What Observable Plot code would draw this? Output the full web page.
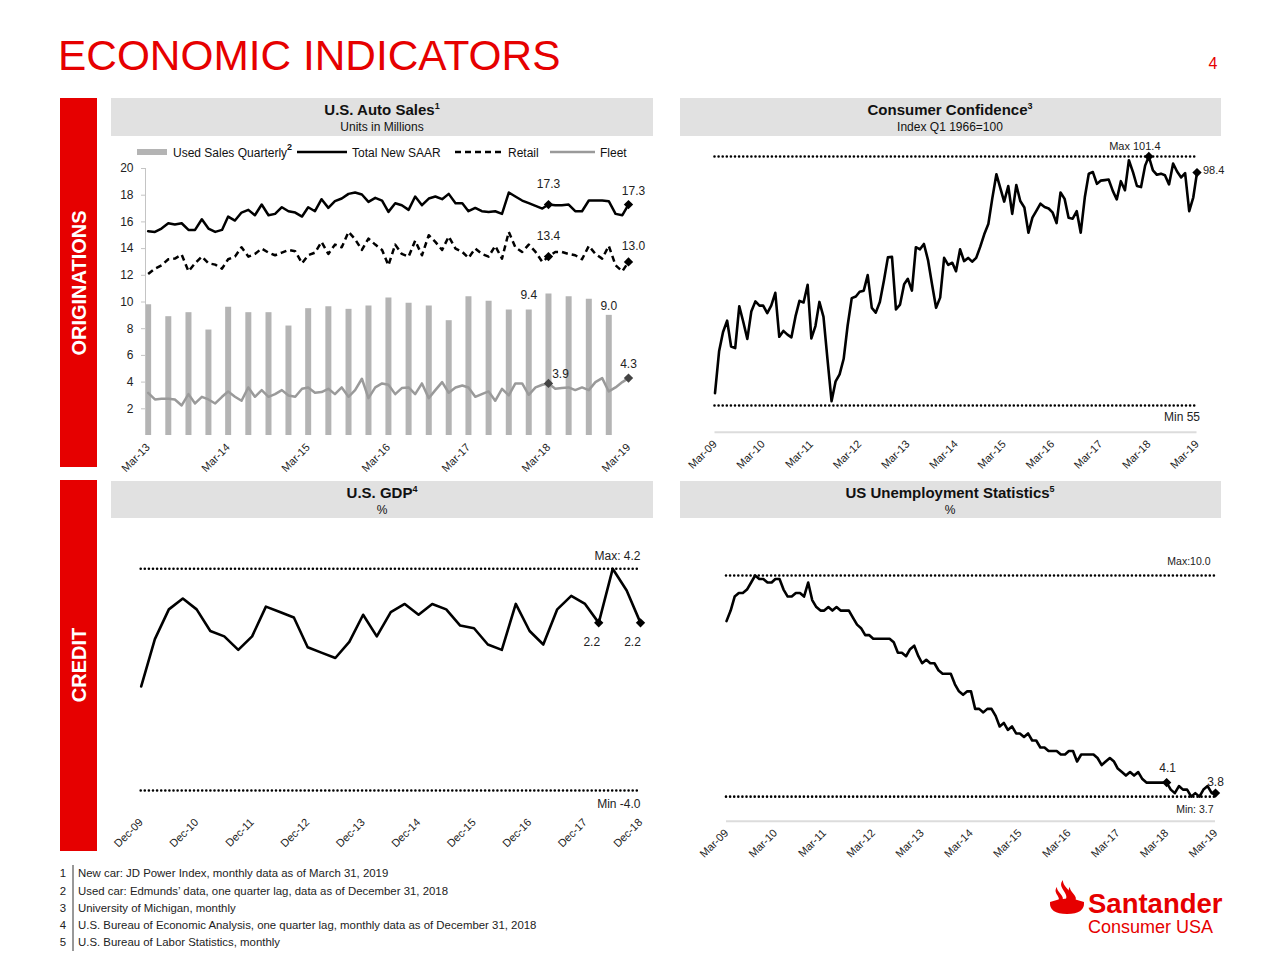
<!DOCTYPE html>
<html><head><meta charset="utf-8">
<script src="https://cdn.jsdelivr.net/npm/d3@7"></script>
<script src="https://cdn.jsdelivr.net/npm/@observablehq/plot@0.6"></script>
<style>
body{margin:0;background:#fff;font-family:Arial,"Liberation Sans",Helvetica,sans-serif;}
#page{position:relative;width:1280px;height:960px;overflow:hidden;background:#fff;}
.chart{position:absolute;}
</style></head>
<body><div id="page">
<svg id="deco" width="1280" height="960" style="position:absolute;left:0;top:0" font-family="Arial, 'Liberation Sans', Helvetica, sans-serif">
  <text x="58" y="70" font-size="42.4" fill="#e60000">ECONOMIC INDICATORS</text>
  <text x="1213" y="69" font-size="16" fill="#e60000" text-anchor="middle">4</text>
  <rect x="60" y="98" width="37" height="369" fill="#e60000"/>
  <text transform="translate(86,283) rotate(-90)" text-anchor="middle" font-size="20" font-weight="bold" fill="#fff">ORIGINATIONS</text>
  <rect x="60" y="480" width="37" height="371" fill="#e60000"/>
  <text transform="translate(86,665) rotate(-90)" text-anchor="middle" font-size="20" font-weight="bold" fill="#fff">CREDIT</text>

  <rect x="111" y="98" width="542" height="38" fill="#e1e1e1"/>
  <rect x="680" y="98" width="541" height="38" fill="#e1e1e1"/>
  <rect x="111" y="481" width="542" height="37" fill="#e1e1e1"/>
  <rect x="680" y="481" width="541" height="37" fill="#e1e1e1"/>
  <g text-anchor="middle" fill="#111">
    <text x="382" y="115" font-size="15" font-weight="bold">U.S. Auto Sales<tspan font-size="9" dy="-6">1</tspan></text>
    <text x="382" y="131" font-size="12">Units in Millions</text>
    <text x="950" y="115" font-size="15" font-weight="bold">Consumer Confidence<tspan font-size="9" dy="-6">3</tspan></text>
    <text x="950" y="131" font-size="12">Index Q1 1966=100</text>
    <text x="382" y="498" font-size="15" font-weight="bold">U.S. GDP<tspan font-size="9" dy="-6">4</tspan></text>
    <text x="382" y="514" font-size="12">%</text>
    <text x="950" y="498" font-size="15" font-weight="bold">US Unemployment Statistics<tspan font-size="9" dy="-6">5</tspan></text>
    <text x="950" y="514" font-size="12">%</text>
  </g>

  <g font-size="12" fill="#111">
    <rect x="137" y="149" width="30" height="6" fill="#b4b4b4"/>
    <text x="173" y="157">Used Sales Quarterly<tspan font-size="9" font-weight="bold" dy="-7">2</tspan></text>
    <line x1="297" x2="347" y1="152" y2="152" stroke="#000" stroke-width="2.5"/>
    <text x="352" y="157">Total New SAAR</text>
    <line x1="455" x2="505" y1="152" y2="152" stroke="#000" stroke-width="2.5" stroke-dasharray="6,4"/>
    <text x="508" y="157">Retail</text>
    <line x1="550" x2="595" y1="152" y2="152" stroke="#9a9a9a" stroke-width="2.5"/>
    <text x="600" y="157">Fleet</text>
  </g>

  <g font-size="11.4" fill="#222">
    <line x1="73" x2="73" y1="865" y2="951" stroke="#333" stroke-width="1"/>
    <text x="63" y="877" text-anchor="middle">1</text><text x="78" y="877">New car: JD Power Index, monthly data as of March 31, 2019</text>
    <text x="63" y="894.5" text-anchor="middle">2</text><text x="78" y="894.5">Used car: Edmunds’ data, one quarter lag, data as of December 31, 2018</text>
    <text x="63" y="912" text-anchor="middle">3</text><text x="78" y="912">University of Michigan, monthly</text>
    <text x="63" y="929" text-anchor="middle">4</text><text x="78" y="929">U.S. Bureau of Economic Analysis, one quarter lag, monthly data as of December 31, 2018</text>
    <text x="63" y="946" text-anchor="middle">5</text><text x="78" y="946">U.S. Bureau of Labor Statistics, monthly</text>
  </g>

  <g fill="#e60000">
    <path d="M1050,902 Q1067,895 1084,902 Q1085,914 1067,914 Q1049,914 1050,902Z"/>
    <path d="M1063,880 C1056,888 1071,893 1065,901 L1071,901 C1077,893 1062,888 1063,880Z"/>
    <path d="M1057,887 C1052,893 1062,897 1058,901 L1062,901 C1066,896 1056,892 1057,887Z"/>
    <path d="M1070,887 C1065,893 1075,897 1071,901 L1075,901 C1079,896 1069,892 1070,887Z"/>
    <text x="1088" y="913" font-size="27.5" font-weight="bold">Santander</text>
    <text x="1088" y="933" font-size="18">Consumer USA</text>
  </g>
</svg>
<div id="c-auto" class="chart" style="left:100px;top:140px"></div>
<div id="c-conf" class="chart" style="left:680px;top:140px"></div>
<div id="c-gdp" class="chart" style="left:110px;top:540px"></div>
<div id="c-unemp" class="chart" style="left:700px;top:540px"></div>
</div>
<script>
// ---------- DATA ----------
// U.S. Auto Sales (millions), monthly from Mar-13
const autoStart = "Mar-13";
const totalNewSAAR = [15.3,15.25,15.5,15.9,15.8,15.9,15.4,15.4,16.2,15.5,
  15.25,15.4,16.4,16.1,16.7,16.9,16.5,17.3,16.5,16.6,
  17.1,16.8,16.7,16.4,17.1,16.8,17.7,17.05,17.55,17.75,
  18.1,18.2,18.05,17.5,17.8,17.6,16.75,17.4,17.25,16.9,
  17.9,17.25,17.75,17.9,17.7,18.1,17.4,17.4,16.8,17.05,
  16.8,16.75,16.8,16.6,18.2,17.9,17.6,17.4,17.2,17.0,
  17.3,17.25,17.25,17.3,16.8,16.8,17.6,17.6,17.6,17.55,
  16.6,16.5,17.3];
const retail = [12.1,12.5,12.75,13.2,13.25,13.55,12.3,12.9,13.4,12.9,
  12.8,12.5,13.2,13.4,14.1,13.4,13.6,14.0,13.7,13.5,
  13.7,13.9,13.8,12.9,13.5,13.7,14.5,13.6,14.3,14.1,
  15.25,14.7,13.9,14.75,14.3,13.9,12.75,14.3,13.6,13.4,
  14.6,13.5,15.0,14.5,13.9,14.9,14.0,13.75,13.3,14.0,
  13.6,13.4,14.2,13.25,15.25,14.1,13.75,14.3,13.75,13.0,
  13.4,13.75,13.75,13.6,13.5,13.2,14.2,13.6,13.25,14.2,
  12.75,12.3,13.0];
const fleet = [3.2,2.7,2.75,2.75,2.7,2.25,3.1,2.4,2.9,2.7,
  2.4,2.9,3.3,2.9,2.6,3.6,2.9,3.4,2.9,3.1,
  3.4,3.0,2.9,3.5,3.6,3.2,3.25,3.5,3.1,3.6,
  2.9,3.4,4.25,2.8,3.6,3.9,3.8,3.1,3.55,3.6,
  3.1,3.9,2.8,3.4,4.0,3.2,3.6,3.75,3.6,2.9,
  3.1,3.3,2.6,3.5,3.0,3.9,3.9,3.05,3.6,3.8,
  3.9,3.5,3.55,3.6,3.4,3.6,3.4,4.0,4.3,3.3,
  3.6,4.0,4.3];
// Used sales, quarterly from Mar-13
const usedStart = "Mar-13";
const usedSalesQuarterly = [9.8,8.9,9.2,7.9,9.6,9.2,9.2,8.2,9.5,9.65,9.45,9.7,
  10.3,9.9,9.7,8.6,10.4,10.05,9.4,9.4,10.6,10.4,10.2,9.0];
const autoTickLabels = ["Mar-13","Mar-14","Mar-15","Mar-16","Mar-17","Mar-18","Mar-19"];
const autoYTicks = [2,4,6,8,10,12,14,16,18,20];

// Consumer Confidence (Index Q1 1966=100), monthly from Mar-09
const confStart = "Mar-09";
const consumerConfidence = [57.3,65.1,68.7,70.8,66.0,65.7,73.5,70.6,67.4,72.5,
  74.4,73.6,73.6,72.2,73.6,76.0,67.8,68.9,68.2,67.7,71.6,74.5,
  74.2,77.5,67.5,69.8,74.3,71.5,63.7,55.8,59.5,60.8,63.7,69.9,
  75.0,75.3,76.2,76.4,79.3,73.2,72.3,74.3,78.3,82.6,82.7,72.9,
  73.8,77.6,78.6,76.4,84.5,84.1,85.1,82.1,77.5,73.2,75.1,82.5,
  81.2,81.6,80.0,84.1,81.9,82.5,81.8,82.5,84.6,86.9,88.8,93.6,
  98.1,95.4,93.0,95.9,90.7,96.1,93.1,91.9,87.2,90.0,91.3,92.6,
  92.0,91.7,91.0,89.0,94.7,93.5,90.0,89.8,91.2,87.2,93.8,98.2,
  98.5,96.3,96.9,97.0,97.1,95.0,93.4,96.8,95.1,100.7,98.5,95.9,
  95.7,99.7,101.4,98.8,98.0,98.2,97.9,96.2,100.1,98.6,97.5,98.3,
  91.2,93.8,98.4];
const confRefLabels = ["Max 101.4","Min 55"];
const confRefValues = [101.4, 55];
const tenYearTickLabels = ["Mar-09","Mar-10","Mar-11","Mar-12","Mar-13","Mar-14","Mar-15","Mar-16","Mar-17","Mar-18","Mar-19"];

// U.S. GDP (%), quarterly from Dec-09
const gdpStart = "Dec-09";
const gdp = [-0.15,1.6,2.7,3.1,2.7,1.9,1.7,1.2,1.7,2.8,2.6,2.4,1.3,1.1,0.9,1.5,2.5,1.7,2.6,
  2.9,2.5,2.9,2.7,2.1,2.0,1.4,1.2,2.9,1.9,1.4,2.7,3.2,2.9,2.2,4.2,3.4,2.2];
const gdpRefLabels = ["Max: 4.2","Min -4.0"];
const gdpRefValues = [4.2, -4.0];
const gdpTickLabels = ["Dec-09","Dec-10","Dec-11","Dec-12","Dec-13","Dec-14","Dec-15","Dec-16","Dec-17","Dec-18"];

// US Unemployment (%), monthly from Mar-09
const unempStart = "Mar-09";
const unemployment = [8.7,9.0,9.4,9.5,9.5,9.6,9.8,10.0,9.9,9.9,
  9.8,9.8,9.9,9.9,9.6,9.4,9.4,9.5,9.5,9.4,9.8,9.3,
  9.1,9.0,9.0,9.1,9.0,9.1,9.0,9.0,9.0,8.8,8.6,8.5,
  8.3,8.3,8.2,8.2,8.2,8.2,8.2,8.1,7.8,7.8,7.7,7.9,
  8.0,7.7,7.5,7.6,7.5,7.5,7.3,7.2,7.2,7.2,6.9,6.7,
  6.6,6.7,
  6.7,6.2,6.2,6.1,6.2,6.2,6.0,5.7,5.8,5.6,
  5.7,5.5,5.5,5.4,5.5,5.3,5.3,5.1,5.1,5.0,
  5.0,5.0,4.9,4.9,5.0,5.0,4.7,4.9,4.9,4.9,
  4.9,4.8,4.6,4.7,4.8,4.7,4.5,4.4,4.3,4.4,
  4.3,4.4,4.2,4.1,4.1,4.1,4.1,4.1,4.1,3.9,
  3.8,4.0,3.9,3.9,3.7,3.8,3.7,3.9,4.0,3.8,
  3.8];
const unempRefLabels = ["Max:10.0","Min: 3.7"];
const unempRefValues = [10.0, 3.7];

// ---------- HELPERS ----------
const parseM = d3.utcParse("%b-%y");
const fmtM = d3.utcFormat("%b-%y");
const fmt1 = d3.format(".1f");
const series = (start, vals, step = 1) =>
  vals.map((v, i) => ({date: d3.utcMonth.offset(parseM(start), i * step), value: v}));
const at = (s, label) => s.find(d => fmtM(d.date) === label);
const FONT = "Arial, 'Liberation Sans', Helvetica, sans-serif";
const style = {fontFamily: FONT, fontSize: "12px", color: "#222", background: "transparent", overflow: "visible"};
const diamond = (pt, fill = "#000") => Plot.dot([pt], {x: "date", y: "value", symbol: "diamond2", r: 4.2, fill, stroke: "none"});
const valueLabel = (pt, o) => Plot.text([pt], {x: "date", y: "value", text: d => fmt1(d.value), fill: "#222", fontSize: 12, ...o});
const dotted = {stroke: "#000", strokeWidth: 2.6, strokeDasharray: "0,4.1", strokeLinecap: "round"};
const xAxis = (labels, pad) => Plot.axisX({ticks: labels.map(parseM), tickFormat: fmtM, tickRotate: -45, tickSize: 0, tickPadding: pad, fontSize: 11, fill: "#222", label: null});

// ---------- AUTO SALES ----------
{
  const saar = series(autoStart, totalNewSAAR);
  const ret = series(autoStart, retail);
  const flt = series(autoStart, fleet);
  const used = series(usedStart, usedSalesQuarterly, 3);
  const x0 = d3.utcDay.offset(parseM(autoTickLabels[0]), -12);
  const plot = Plot.plot({
    width: 560, height: 340, marginLeft: 45, marginRight: 32, marginTop: 28, marginBottom: 45, style,
    x: {type: "utc", domain: [x0, parseM(autoTickLabels.at(-1))]},
    y: {domain: [0, 20]},
    marks: [
      Plot.ruleX(used, {x: "date", y1: 0, y2: "value", stroke: "#b4b4b4", strokeWidth: 6}),
      Plot.ruleX([x0], {y1: 0, y2: 20, stroke: "#c4c4c4"}),
      Plot.axisY({ticks: autoYTicks, tickSize: 4, tickPadding: 8, stroke: "#c4c4c4", fill: "#222", fontSize: 12, label: null}),
      xAxis(autoTickLabels, 10),
      Plot.line(flt, {x: "date", y: "value", stroke: "#9a9a9a", strokeWidth: 2.5}),
      Plot.line(ret, {x: "date", y: "value", stroke: "#000", strokeWidth: 2.5, strokeDasharray: "6,4", strokeLinecap: "butt"}),
      Plot.line(saar, {x: "date", y: "value", stroke: "#000", strokeWidth: 2.5}),
      diamond(at(saar, "Mar-18")), valueLabel(at(saar, "Mar-18"), {dy: -20}),
      diamond(at(saar, "Mar-19")), valueLabel(at(saar, "Mar-19"), {dx: 5, dy: -13}),
      diamond(at(ret, "Mar-18")), valueLabel(at(ret, "Mar-18"), {dy: -20}),
      diamond(at(ret, "Mar-19")), valueLabel(at(ret, "Mar-19"), {dx: 5, dy: -16}),
      diamond(at(flt, "Mar-18"), "#444"), valueLabel(at(flt, "Mar-18"), {dx: 12, dy: -9}),
      diamond(at(flt, "Mar-19"), "#444"), valueLabel(at(flt, "Mar-19"), {dy: -14}),
      valueLabel(at(used, "Dec-17"), {dy: -15}),
      valueLabel(at(used, "Dec-18"), {dy: -9})
    ]
  });
  document.getElementById("c-auto").append(plot);
}

// ---------- CONSUMER CONFIDENCE ----------
{
  const s = series(confStart, consumerConfidence);
  const refs = confRefValues.map((v, i) => ({value: v, label: confRefLabels[i], date: parseM(tenYearTickLabels.at(-1))}));
  const maxPt = s.find(d => d.value === confRefValues[0]);
  const plot = Plot.plot({
    width: 545, height: 340, marginLeft: 34.5, marginRight: 28.5, marginTop: 16, marginBottom: 48.2, style,
    x: {type: "utc", domain: [parseM(tenYearTickLabels[0]), parseM(tenYearTickLabels.at(-1))]},
    y: {domain: [50, 101.4], axis: null},
    marks: [
      Plot.ruleY([50], {stroke: "#dcdcdc", strokeWidth: 2}),
      Plot.ruleY(refs, {y: "value", ...dotted}),
      xAxis(tenYearTickLabels, 10),
      Plot.line(s, {x: "date", y: "value", stroke: "#000", strokeWidth: 2.6}),
      diamond(maxPt), Plot.text([maxPt], {x: "date", y: "value", text: () => refs[0].label, dx: -14, dy: -10, fontSize: 11, fill: "#222"}),
      diamond(s.at(-1)), valueLabel(s.at(-1), {dx: 6, dy: -2, textAnchor: "start", fontSize: 11}),
      Plot.text([refs[1]], {x: "date", y: "value", text: "label", dx: 3, dy: 12, textAnchor: "end", fontSize: 12, fill: "#222"})
    ]
  });
  document.getElementById("c-conf").append(plot);
}

// ---------- GDP ----------
{
  const s = series(gdpStart, gdp, 3);
  const last = parseM(gdpTickLabels.at(-1));
  const refs = gdpRefValues.map((v, i) => ({value: v, label: gdpRefLabels[i], date: last}));
  const plot = Plot.plot({
    width: 550, height: 330, marginLeft: 30.7, marginRight: 20, marginTop: 28.3, marginBottom: 80, style,
    x: {type: "utc", domain: [parseM(gdpTickLabels[0]), last]},
    y: {domain: [-4, 4.2], axis: null},
    marks: [
      Plot.ruleY(refs, {y: "value", ...dotted}),
      xAxis(gdpTickLabels, 30),
      Plot.line(s, {x: "date", y: "value", stroke: "#000", strokeWidth: 2.6}),
      diamond(at(s, "Mar-18")), valueLabel(at(s, "Mar-18"), {dx: -7, dy: 19}),
      diamond(s.at(-1)), valueLabel(s.at(-1), {dx: -8, dy: 19}),
      Plot.text([refs[0]], {x: "date", y: "value", text: "label", dy: -13, textAnchor: "end", fontSize: 12, fill: "#222"}),
      Plot.text([refs[1]], {x: "date", y: "value", text: "label", dy: 14, textAnchor: "end", fontSize: 12, fill: "#222"})
    ]
  });
  document.getElementById("c-gdp").append(plot);
}

// ---------- UNEMPLOYMENT ----------
{
  const s = series(unempStart, unemployment);
  const last = parseM(tenYearTickLabels.at(-1));
  const refs = unempRefValues.map((v, i) => ({value: v, label: unempRefLabels[i], date: last}));
  const plot = Plot.plot({
    width: 540, height: 330, marginLeft: 26, marginRight: 25, marginTop: 35, marginBottom: 49.3, style,
    x: {type: "utc", domain: [parseM(tenYearTickLabels[0]), last]},
    y: {domain: [3, 10], axis: null},
    marks: [
      Plot.ruleY([3], {stroke: "#dcdcdc", strokeWidth: 2}),
      Plot.ruleY(refs, {y: "value", ...dotted}),
      xAxis(tenYearTickLabels, 10),
      Plot.line(s, {x: "date", y: "value", stroke: "#000", strokeWidth: 2.6}),
      diamond(at(s, "Mar-18")), valueLabel(at(s, "Mar-18"), {dx: 1, dy: -14}),
      diamond(s.at(-1)), valueLabel(s.at(-1), {dy: -11}),
      Plot.text([refs[0]], {x: "date", y: "value", text: "label", dx: -5, dy: -14, textAnchor: "end", fontSize: 10.5, fill: "#222"}),
      Plot.text([refs[1]], {x: "date", y: "value", text: "label", dx: -2, dy: 13, textAnchor: "end", fontSize: 10.5, fill: "#222"})
    ]
  });
  document.getElementById("c-unemp").append(plot);
}
</script>
</body></html>
